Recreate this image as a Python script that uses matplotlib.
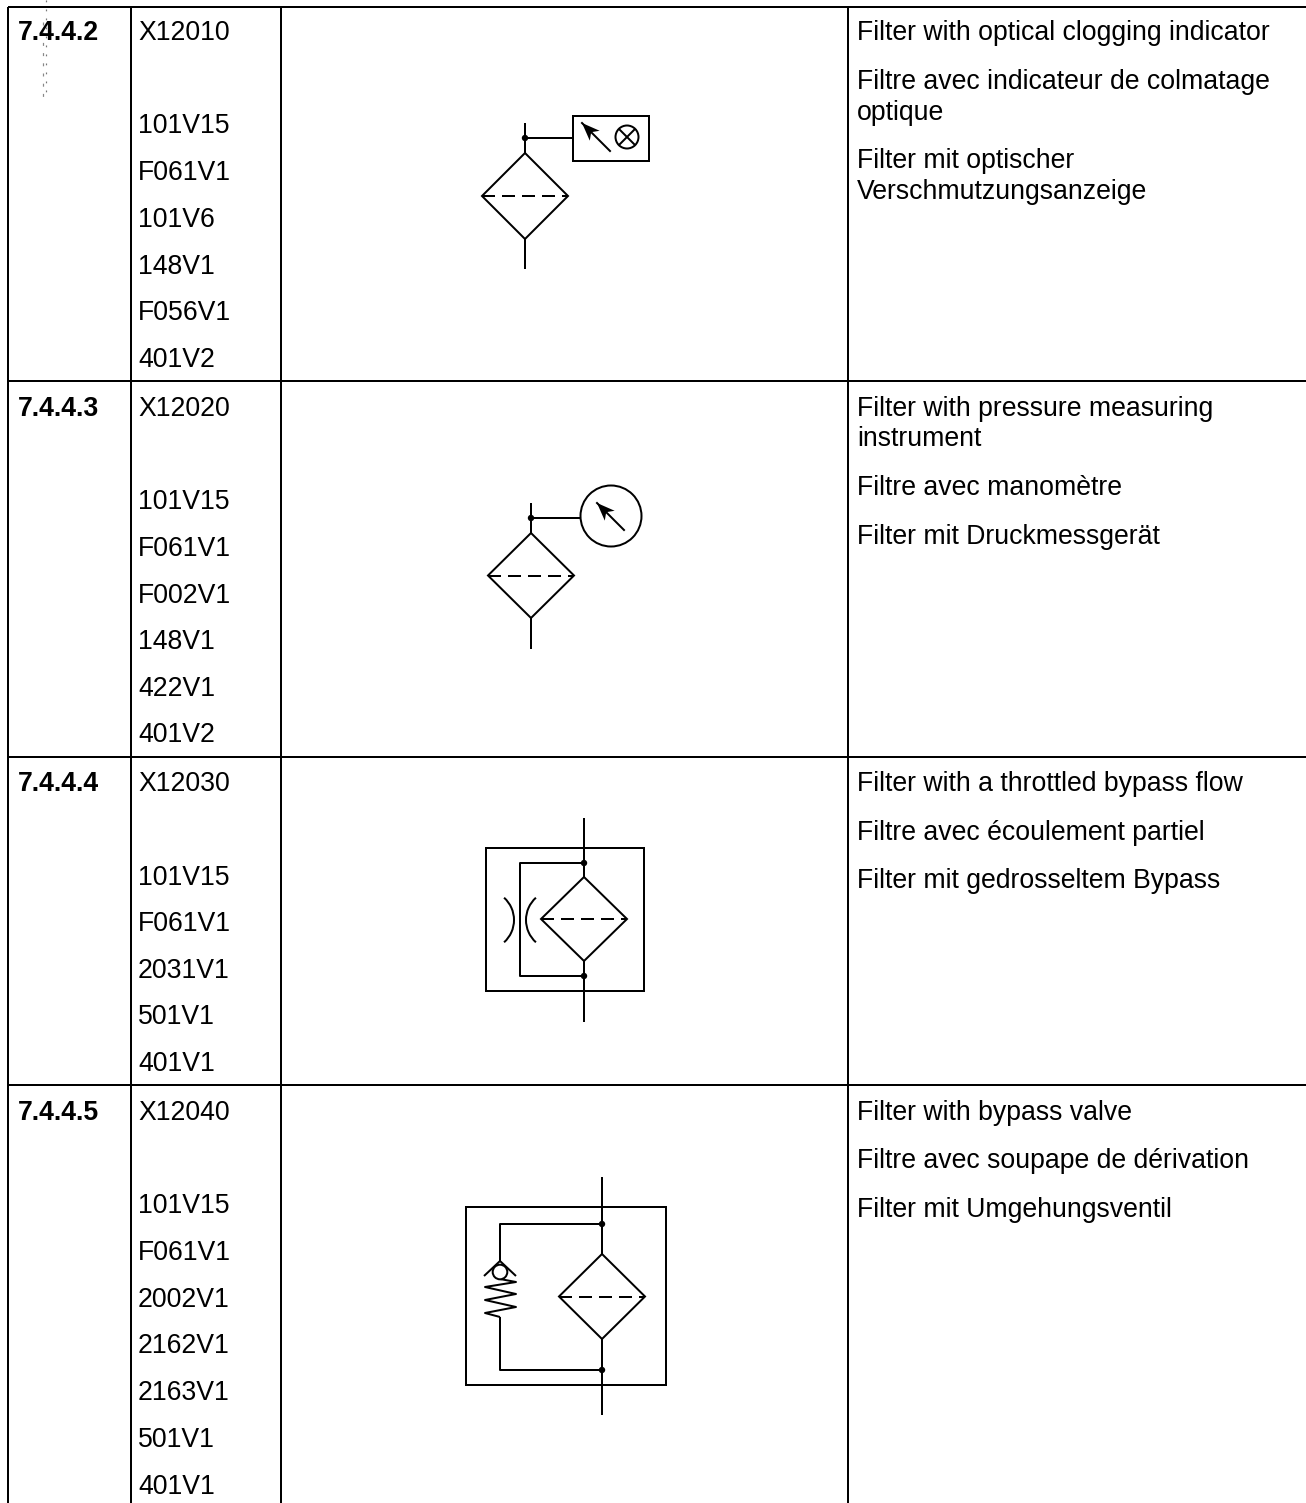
import numpy as np
from matplotlib import pyplot as plt
from matplotlib.patches import Arc, Circle, Polygon, Rectangle

W, H = 1306, 1503
PX = 72 / 100  # one pixel in points at dpi 100
FONT = "Liberation Sans"
FS = 19.2

# table content
numbers = ["7.4.4.2", "7.4.4.3", "7.4.4.4", "7.4.4.5"]
number_y = [31, 407, 782, 1111]

codes = ["X12010", "101V15", "F061V1", "101V6", "148V1", "F056V1", "401V2",
         "X12020", "101V15", "F061V1", "F002V1", "148V1", "422V1", "401V2",
         "X12030", "101V15", "F061V1", "2031V1", "501V1", "401V1",
         "X12040", "101V15", "F061V1", "2002V1", "2162V1", "2163V1", "501V1", "401V1"]
code_y = [31, 124, 171, 218, 265, 311, 358,
          407, 500, 547, 594, 640, 687, 733,
          782, 876, 922, 969, 1015, 1062,
          1111, 1204, 1251, 1298, 1344, 1391, 1438, 1485]

descriptions = ["Filter with optical clogging indicator",
                "Filtre avec indicateur de colmatage", "optique",
                "Filter mit optischer", "Verschmutzungsanzeige",
                "Filter with pressure measuring", "instrument",
                "Filtre avec manomètre",
                "Filter mit Druckmessgerät",
                "Filter with a throttled bypass flow",
                "Filtre avec écoulement partiel",
                "Filter mit gedrosseltem Bypass",
                "Filter with bypass valve",
                "Filtre avec soupape de dérivation",
                "Filter mit Umgehungsventil"]
description_y = [31, 80, 111, 159, 190, 407, 437, 486, 535, 782, 831, 879, 1111, 1159, 1208]

column_x = [8, 131, 281, 848]
row_y = [7, 381, 757, 1085]

fig = plt.figure(figsize=(W / 100, H / 100), dpi=100)
ax = fig.add_axes([0, 0, 1, 1])
ax.set_xlim(0, W)
ax.set_ylim(H, 0)
ax.axis("off")


def line(xs, ys, lw=2.0, **kw):
    kw.setdefault("color", "black")
    ax.plot(xs, ys, lw=lw * PX, solid_capstyle="butt", **kw)


def dot(x, y, r=3.2):
    ax.add_patch(Circle((x, y), r, fc="black", ec="none", zorder=3))


def ring(x, y, r, lw=2.0):
    ax.add_patch(Circle((x, y), r, fc="white", ec="black", lw=lw * PX, zorder=3))


def box(x0, y0, x1, y1):
    ax.add_patch(Rectangle((x0, y0), x1 - x0, y1 - y0, fc="none", ec="black", lw=2.0 * PX))


def filter_diamond(x, top, bottom, half_w):
    mid = (top + bottom) / 2
    ax.add_patch(Polygon([(x, top), (x + half_w, mid), (x, bottom), (x - half_w, mid)],
                         closed=True, fc="white", ec="black", lw=2.0 * PX, zorder=2))
    ax.plot([x - half_w, x + half_w], [mid, mid], color="black", lw=2.0 * PX,
            dashes=(6.5, 3.5), zorder=3)


def needle(x_tail, y_tail, x_tip, y_tip):
    # gauge needle, with a filled barbed head
    d = np.array([x_tail - x_tip, y_tail - y_tip], dtype=float)
    d = d / np.hypot(*d)
    n = np.array([-d[1], d[0]])
    tip = np.array([x_tip, y_tip])
    ax.plot([x_tail, x_tip], [y_tail, y_tip], color="black", lw=2.0 * PX, zorder=5)
    ax.add_patch(Polygon([tip, tip + d * 18 + n * 7, tip + d * 13, tip + d * 18 - n * 7],
                         closed=True, fc="black", ec="none", zorder=5))


# grid
for x in column_x:
    line([x, x], [row_y[0], H], lw=2.0)
for y in row_y:
    line([column_x[0], W], [y, y], lw=2.0)

# stray dotted marks on the scan
line([46, 46], [0, 92], lw=1.2, color="#777777", linestyle=(0, (1.5, 6)))
line([43, 43], [22, 100], lw=1.2, color="#888888", linestyle=(0, (2.5, 6)))

# text
for label, y in zip(numbers, number_y):
    ax.text(18, y + 9, label, fontsize=FS, fontweight="bold", family=FONT, va="baseline", zorder=6)
for label, y in zip(codes, code_y):
    ax.text(138, y + 9, label, fontsize=FS, family=FONT, va="baseline")
for label, y in zip(descriptions, description_y):
    ax.text(857, y + 9, label, fontsize=FS, family=FONT, va="baseline")

# filter with optical indicator
line([525, 525], [123, 269])
filter_diamond(525, 153, 239, 43)
dot(525, 138)
line([525, 573], [138, 138])
box(573, 116, 649, 161)
needle(610, 151, 582, 123)
ring(627, 137, 11.5)
for sx, sy in [(1, 1), (1, -1)]:
    line([627 - 8 * sx, 627 + 8 * sx], [137 - 8 * sy, 137 + 8 * sy], zorder=5)

# filter with pressure gauge
line([531, 531], [503, 649])
filter_diamond(531, 533, 618, 43)
dot(531, 518)
line([531, 581], [518, 518])
ring(611, 516, 30.5)
needle(624, 530, 597, 503)

# filter with throttled bypass
box(486, 848, 644, 991)
line([584, 584], [818, 1022])
filter_diamond(584, 877, 961, 43)
line([584, 520, 520, 584], [863, 863, 976, 976])
dot(584, 863)
dot(584, 976)
ax.add_patch(Arc((484, 920), 60, 60, theta1=-48, theta2=48, ec="black", lw=2.0 * PX))
ax.add_patch(Arc((556, 920), 60, 60, theta1=132, theta2=228, ec="black", lw=2.0 * PX))

# filter with bypass valve
box(466, 1207, 666, 1385)
line([602, 602], [1177, 1415])
filter_diamond(602, 1254, 1339, 43)
line([500, 500, 602], [1261, 1224, 1224])
line([500, 500, 602], [1317, 1370, 1370])
dot(602, 1224)
dot(602, 1370)
line([484, 500, 516], [1276, 1261, 1276])
ring(500, 1272, 7.3)
line([500, 516, 485, 516, 485, 516, 485, 500],
     [1279, 1282, 1287, 1294, 1300, 1307, 1313, 1317])

fig.savefig("out.png", dpi=100)
